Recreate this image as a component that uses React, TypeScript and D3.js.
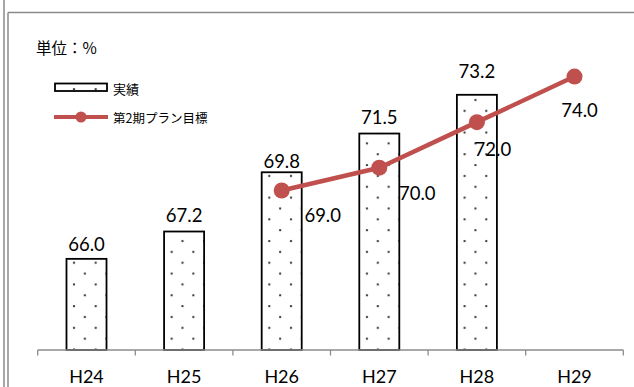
import * as d3 from 'd3';
import React, { useEffect, useRef } from 'react';

// categories and values
const years = ['H24', 'H25', 'H26', 'H27', 'H28', 'H29'];
const actual = [66.0, 67.2, 69.8, 71.5, 73.2, null];
const target = [null, null, 69.0, 70.0, 72.0, 74.0];

// hand-placed label nudges (px), like the moved labels in the original
const actualLabelDy = [-15, -17, -11, -17, -24, 0];
const targetLabelDx = [0, 0, 41, 38, 16, 5];
const targetLabelDy = [0, 0, 24, 25, 27, 33];

const W = 634;
const H = 387;
const RED = '#C0504D';
const NUM_FONT = 'Lato, "Open Sans", "Liberation Sans", sans-serif';
const JP_FONT = '"Noto Sans CJK JP", "Noto Sans", sans-serif';

const App: React.FC = () => {
    const svgRef = useRef<SVGSVGElement>(null);

    useEffect(() => {
        if (!svgRef.current) return;
        d3.select(svgRef.current).selectAll('*').remove();

        const svg = d3.select(svgRef.current)
            .attr('width', W)
            .attr('height', H);

        const x = d3.scaleBand<string>()
            .domain(years)
            .range([37.7, 623.3])
            .padding(0);

        const y = d3.scaleLinear()
            .domain([62, 76])
            .range([350, 31]);

        const barW = x.bandwidth() * 0.41;
        const cx = (d: string) => (x(d) as number) + x.bandwidth() / 2;

        // dotted fill for bars
        const defs = svg.append('defs');
        const pat = defs.append('pattern')
            .attr('id', 'dots')
            .attr('patternUnits', 'userSpaceOnUse')
            .attr('width', 21.7)
            .attr('height', 21.7)
            .attr('x', 69)
            .attr('y', 257.7);
        pat.append('rect').attr('width', 21.7).attr('height', 21.7).attr('fill', '#fff');
        pat.append('circle').attr('cx', 5).attr('cy', 5).attr('r', 1.15).attr('fill', '#333');
        pat.append('circle').attr('cx', 15.85).attr('cy', 15.85).attr('r', 1.15).attr('fill', '#333');

        // outer frame
        svg.append('line')
            .attr('x1', 4).attr('x2', 4).attr('y1', 0).attr('y2', H)
            .attr('stroke', '#8a8a8a').attr('stroke-width', 1.5);
        svg.append('line')
            .attr('x1', 8).attr('x2', 8).attr('y1', 12.5).attr('y2', H)
            .attr('stroke', '#8a8a8a').attr('stroke-width', 1.5);
        svg.append('line')
            .attr('x1', 8).attr('x2', W).attr('y1', 12.5).attr('y2', 12.5)
            .attr('stroke', '#8a8a8a').attr('stroke-width', 1.5);

        // unit
        svg.append('text')
            .attr('x', 36)
            .attr('y', 47)
            .attr('dominant-baseline', 'central')
            .attr('font-family', JP_FONT)
            .attr('font-size', 15.5)
            .attr('fill', '#000')
            .text('単位：%');

        // bars
        const barData = years.map((yr, i) => ({ yr, v: actual[i], i })).filter(d => d.v !== null) as { yr: string; v: number; i: number }[];
        svg.append('g')
            .selectAll('rect')
            .data(barData)
            .join('rect')
            .attr('x', d => cx(d.yr) - barW / 2)
            .attr('y', d => y(d.v))
            .attr('width', barW)
            .attr('height', d => y(62) - y(d.v))
            .attr('fill', 'url(#dots)')
            .attr('stroke', '#000')
            .attr('stroke-width', 1.8);

        svg.append('g')
            .selectAll('text')
            .data(barData)
            .join('text')
            .attr('x', d => cx(d.yr))
            .attr('y', d => y(d.v) + actualLabelDy[d.i])
            .attr('text-anchor', 'middle')
            .attr('dominant-baseline', 'central')
            .attr('font-family', NUM_FONT)
            .attr('font-size', 18.5)
            .attr('fill', '#000')
            .text(d => d.v.toFixed(1));

        // axis
        const axis = svg.append('g').attr('stroke', '#8c8c8c').attr('stroke-width', 1.3);
        axis.append('line')
            .attr('x1', x.range()[0]).attr('x2', x.range()[1])
            .attr('y1', 350).attr('y2', 350);
        const edges = years.map(d => x(d) as number).concat([x.range()[1]]);
        axis.selectAll('line.tick')
            .data(edges)
            .join('line')
            .attr('class', 'tick')
            .attr('x1', d => d).attr('x2', d => d)
            .attr('y1', 350).attr('y2', 355.5);

        svg.append('g')
            .selectAll('text')
            .data(years)
            .join('text')
            .attr('x', d => cx(d))
            .attr('y', 376)
            .attr('text-anchor', 'middle')
            .attr('dominant-baseline', 'central')
            .attr('font-family', NUM_FONT)
            .attr('font-size', 18)
            .attr('fill', '#000')
            .text(d => d);

        // target line
        const lineData = years.map((yr, i) => ({ yr, v: target[i], i })).filter(d => d.v !== null) as { yr: string; v: number; i: number }[];
        const line = d3.line<{ yr: string; v: number }>()
            .x(d => cx(d.yr))
            .y(d => y(d.v));
        svg.append('path')
            .datum(lineData)
            .attr('d', line)
            .attr('fill', 'none')
            .attr('stroke', RED)
            .attr('stroke-width', 4.5)
            .attr('stroke-linejoin', 'round');
        svg.append('g')
            .selectAll('circle')
            .data(lineData)
            .join('circle')
            .attr('cx', d => cx(d.yr))
            .attr('cy', d => y(d.v))
            .attr('r', 8)
            .attr('fill', RED);

        svg.append('g')
            .selectAll('text')
            .data(lineData)
            .join('text')
            .attr('x', d => cx(d.yr) + targetLabelDx[d.i])
            .attr('y', d => y(d.v) + targetLabelDy[d.i])
            .attr('text-anchor', 'middle')
            .attr('dominant-baseline', 'central')
            .attr('font-family', NUM_FONT)
            .attr('font-size', 18.5)
            .attr('fill', '#000')
            .text(d => d.v.toFixed(1));

        // legend
        const lg = svg.append('g');
        lg.append('rect')
            .attr('x', 55).attr('y', 83.5)
            .attr('width', 52).attr('height', 7.5)
            .attr('fill', 'url(#dots)')
            .attr('stroke', '#000')
            .attr('stroke-width', 1.8);
        lg.append('text')
            .attr('x', 113).attr('y', 88)
            .attr('dominant-baseline', 'central')
            .attr('font-family', JP_FONT)
            .attr('font-size', 13)
            .attr('fill', '#000')
            .text('実績');
        lg.append('line')
            .attr('x1', 54).attr('x2', 108)
            .attr('y1', 117).attr('y2', 117)
            .attr('stroke', RED)
            .attr('stroke-width', 4);
        lg.append('circle')
            .attr('cx', 81).attr('cy', 117).attr('r', 5.5)
            .attr('fill', RED);
        lg.append('text')
            .attr('x', 113).attr('y', 117)
            .attr('dominant-baseline', 'central')
            .attr('font-family', JP_FONT)
            .attr('font-size', 12.5)
            .attr('fill', '#000')
            .text('第2期プラン目標');
    }, []);

    return (
        <div style={{ position: 'fixed', left: 0, top: 0, width: W, height: H, background: '#fff' }}>
            <svg ref={svgRef} style={{ display: 'block' }}></svg>
        </div>
    );
};

export default App;
